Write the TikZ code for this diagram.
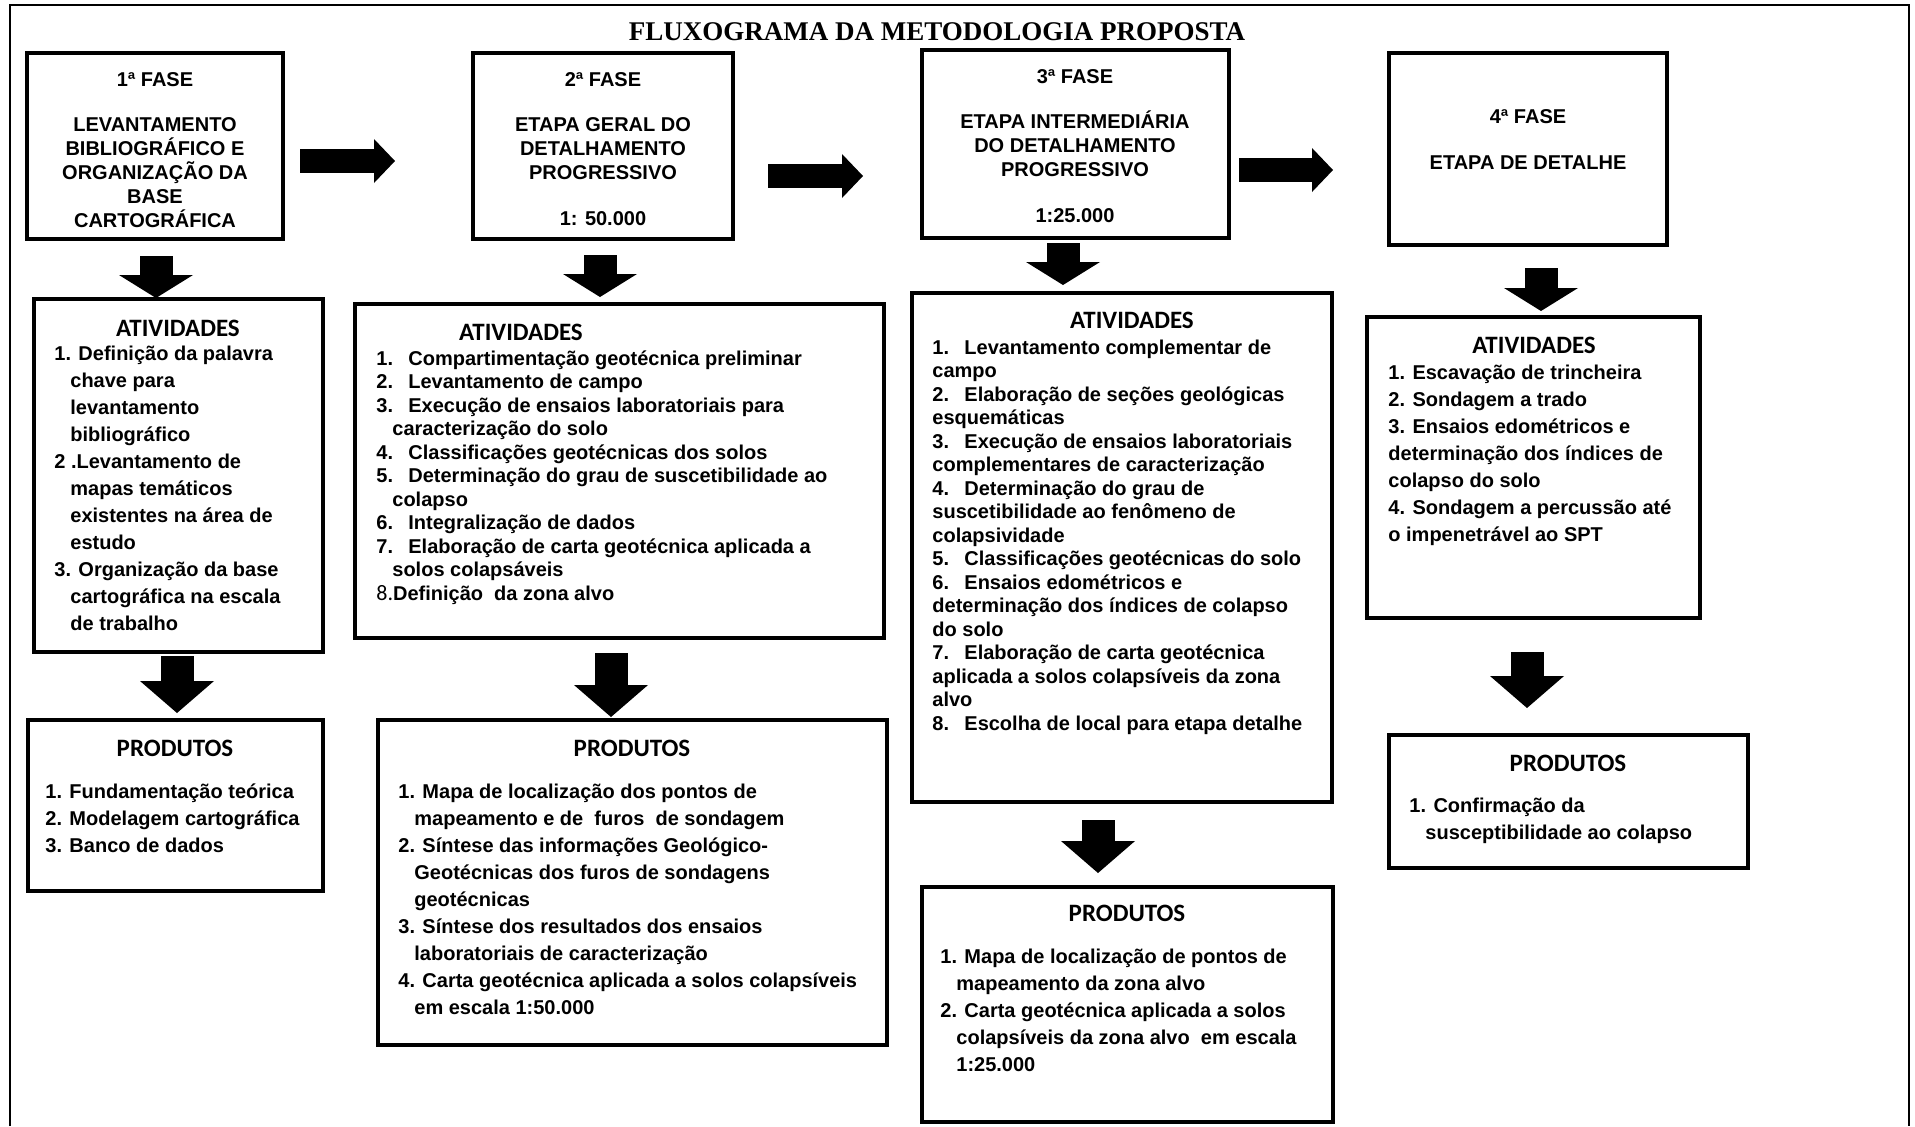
\documentclass[tikz,border=0pt]{standalone}
\usepackage{fontspec}
\setmainfont{Liberation Sans}
\newfontfamily\titulofont{Liberation Serif}
\newfontfamily\cabecfont{Carlito}
\usetikzlibrary{positioning}
\usetikzlibrary{arrows.meta, fit}

\newcommand{\recuo}{\hspace*{8pt}}
\newcommand{\itemnum}[1]{\makebox[16pt][l]{#1}}

\begin{document}
\begin{tikzpicture}[
        x = 0.5pt, y = -0.5pt, % one unit = one pixel, y downwards
        caixa/.style = {draw, line width=1.8pt, inner sep=0pt},
        fase/.style = {font=\bfseries\fontsize{10}{12}\selectfont, align=center, anchor=base, inner sep=0pt},
        cabec/.style = {font=\cabecfont\bfseries\fontsize{12.5}{15}\selectfont, anchor=base, inner sep=0pt},
        lista/.style = {font=\bfseries\fontsize{10}{13.5}\selectfont, align=left, anchor=base west, inner sep=0pt},
        listaj/.style = {lista, font=\bfseries\fontsize{10}{11.75}\selectfont},
        seta/.style = {line width=12pt, -{Triangle[length=10.5pt, width=22pt, line width=0pt]}},
        setab/.style = {line width=16.5pt, -{Triangle[length=#1, width=37pt, line width=0pt]}}
        ]

  \useasboundingbox (0,0) rectangle (1915,1126);
  \draw[line width=1pt] (10,1126) -- (10,5) -- (1909,5) -- (1909,1126);

  \node[font=\titulofont\bfseries\fontsize{13.5}{16}\selectfont, anchor=base] (titulo) at (937,40) {FLUXOGRAMA DA METODOLOGIA PROPOSTA};

  % fases (texts placed by their last line)
  \node[caixa, fit={(27,53) (283,239)}] (f1) {};
  \node[caixa, fit={(473,53) (733,239)}] (f2) {};
  \node[caixa, fit={(922,50) (1229,238)}] (f3) {};
  \node[caixa, fit={(1389,53) (1667,245)}] (f4) {};

  \node[fase] (f1txt) at (155,227) {1ª FASE\\[10.5pt]LEVANTAMENTO\\BIBLIOGRÁFICO E\\ORGANIZAÇÃO DA\\BASE\\CARTOGRÁFICA};
  \node[fase] (f2txt) at (603,225) {2ª FASE\\[10.5pt]ETAPA GERAL DO\\DETALHAMENTO\\PROGRESSIVO\\[11pt]1: 50.000};
  \node[fase] (f3txt) at (1075,222) {3ª FASE\\[10.5pt]ETAPA INTERMEDIÁRIA\\DO DETALHAMENTO\\PROGRESSIVO\\[11pt]1:25.000};
  \node[fase] (f4txt) at (1528,169) {4ª FASE\\[11pt]ETAPA DE DETALHE};

  % atividades
  \node[caixa, fit={(34,299) (323,652)}] (at1) {};
  \node[caixa, fit={(355,304) (884,638)}] (at2) {};
  \node[caixa, fit={(912,293) (1332,802)}] (at3) {};
  \node[caixa, fit={(1367,317) (1700,618)}] (at4) {};

  \node[cabec] (at1cab) at (178,336) {ATIVIDADES};
  \node[cabec] (at2cab) at (521,340) {ATIVIDADES};
  \node[cabec] (at3cab) at (1132,328) {ATIVIDADES};
  \node[cabec] (at4cab) at (1534,353) {ATIVIDADES};

  \node[lista] (at1txt) at (54,630) {1. Definição da palavra\\
    \recuo chave para\\
    \recuo levantamento\\
    \recuo bibliográfico\\
    2 .Levantamento de\\
    \recuo mapas temáticos\\
    \recuo existentes na área de\\
    \recuo estudo\\
    3. Organização da base\\
    \recuo cartográfica na escala\\
    \recuo de trabalho};

  \node[listaj] (at2txt) at (376,600) {\itemnum{1.}Compartimentação geotécnica preliminar\\
    \itemnum{2.}Levantamento de campo\\
    \itemnum{3.}Execução de ensaios laboratoriais para\\
    \recuo caracterização do solo\\
    \itemnum{4.}Classificações geotécnicas dos solos\\
    \itemnum{5.}Determinação do grau de suscetibilidade ao\\
    \recuo colapso\\
    \itemnum{6.}Integralização de dados\\
    \itemnum{7.}Elaboração de carta geotécnica aplicada a\\
    \recuo solos colapsáveis\\
    {\cabecfont\mdseries\fontsize{11}{11.75}\selectfont 8.}Definição\ \ da zona alvo};

  \node[listaj] (at3txt) at (932,730) {\itemnum{1.}Levantamento complementar de\\
    campo\\
    \itemnum{2.}Elaboração de seções geológicas\\
    esquemáticas\\
    \itemnum{3.}Execução de ensaios laboratoriais\\
    complementares de caracterização\\
    \itemnum{4.}Determinação do grau de\\
    suscetibilidade ao fenômeno de\\
    colapsividade\\
    \itemnum{5.}Classificações geotécnicas do solo\\
    \itemnum{6.}Ensaios edométricos e\\
    determinação dos índices de colapso\\
    do solo\\
    \itemnum{7.}Elaboração de carta geotécnica\\
    aplicada a solos colapsíveis da zona\\
    alvo\\
    \itemnum{8.}Escolha de local para etapa detalhe};

  \node[lista] (at4txt) at (1388,541) {1. Escavação de trincheira\\
    2. Sondagem a trado\\
    3. Ensaios edométricos e\\
    determinação dos índices de\\
    colapso do solo\\
    4. Sondagem a percussão até\\
    o impenetrável ao SPT};

  % produtos
  \node[caixa, fit={(28,720) (323,891)}] (pr1) {};
  \node[caixa, fit={(378,720) (887,1045)}] (pr2) {};
  \node[caixa, fit={(922,887) (1333,1122)}] (pr3) {};
  \node[caixa, fit={(1389,735) (1748,868)}] (pr4) {};

  \node[cabec] (pr1cab) at (175,756) {PRODUTOS};
  \node[cabec] (pr2cab) at (632,756) {PRODUTOS};
  \node[cabec] (pr3cab) at (1127,921) {PRODUTOS};
  \node[cabec] (pr4cab) at (1568,771) {PRODUTOS};

  \node[lista] (pr1txt) at (45,852) {1. Fundamentação teórica\\
    2. Modelagem cartográfica\\
    3. Banco de dados};

  \node[lista] (pr2txt) at (398,1014) {1. Mapa de localização dos pontos de\\
    \recuo mapeamento e de\ \ furos\ \ de sondagem\\
    2. Síntese das informações Geológico-\\
    \recuo Geotécnicas dos furos de sondagens\\
    \recuo geotécnicas\\
    3. Síntese dos resultados dos ensaios\\
    \recuo laboratoriais de caracterização\\
    4. Carta geotécnica aplicada a solos colapsíveis\\
    \recuo em escala 1:50.000};

  \node[lista] (pr3txt) at (940,1071) {1. Mapa de localização de pontos de\\
    \recuo mapeamento da zona alvo\\
    2. Carta geotécnica aplicada a solos\\
    \recuo colapsíveis da zona alvo\ \ em escala\\
    \recuo 1:25.000};

  \node[lista] (pr4txt) at (1409,839) {1. Confirmação da\\
    \recuo susceptibilidade ao colapso};

  % setas entre fases
  \coordinate (s12a) at (300,161);  \coordinate (s12b) at (395,161);
  \coordinate (s23a) at (768,176);  \coordinate (s23b) at (863,176);
  \coordinate (s34a) at (1239,170); \coordinate (s34b) at (1333,170);
  \draw[seta] (s12a) -- (s12b);
  \draw[seta] (s23a) -- (s23b);
  \draw[seta] (s34a) -- (s34b);

  % setas para baixo
  \coordinate (d1a) at (156,256);  \coordinate (d1b) at (156,298);
  \coordinate (d2a) at (600,255);  \coordinate (d2b) at (600,297);
  \coordinate (d3a) at (1063,243); \coordinate (d3b) at (1063,285);
  \coordinate (d4a) at (1541,268); \coordinate (d4b) at (1541,311);
  \draw[setab=11.5pt] (d1a) -- (d1b);
  \draw[setab=11.5pt] (d2a) -- (d2b);
  \draw[setab=11.5pt] (d3a) -- (d3b);
  \draw[setab=11.5pt] (d4a) -- (d4b);

  \coordinate (d5a) at (177,656);  \coordinate (d5b) at (177,713);
  \coordinate (d6a) at (611,653);  \coordinate (d6b) at (611,717);
  \coordinate (d7a) at (1098,820); \coordinate (d7b) at (1098,873);
  \coordinate (d8a) at (1527,652); \coordinate (d8b) at (1527,708);
  \draw[setab=16pt] (d5a) -- (d5b);
  \draw[setab=16pt] (d6a) -- (d6b);
  \draw[setab=16pt] (d7a) -- (d7b);
  \draw[setab=16pt] (d8a) -- (d8b);

\end{tikzpicture}
\end{document}
